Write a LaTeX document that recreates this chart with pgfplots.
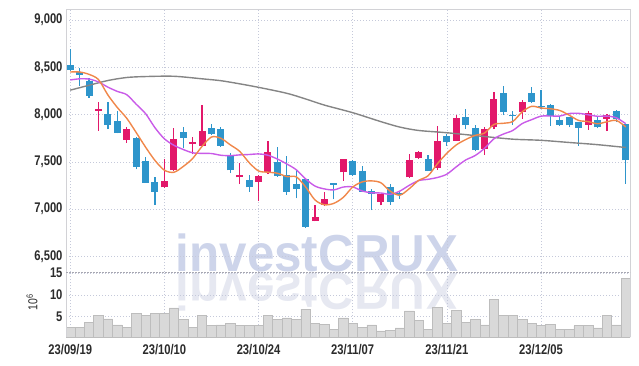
\documentclass[border=0pt]{standalone}
\usepackage{pgfplots}
\pgfplotsset{compat=1.18}
\usepackage{pgfplotstable}
\usepackage{fontspec}
\setmainfont{Liberation Sans}[FakeStretch=0.8]
\newfontfamily\wmfont{Liberation Sans}[FakeStretch=0.95]

\definecolor{upc}{HTML}{E2186A}
\definecolor{downc}{HTML}{2E95CB}
\definecolor{ma5}{HTML}{F0874A}
\definecolor{ma10}{HTML}{C95BE8}
\definecolor{ma60}{HTML}{858585}
\definecolor{gridc}{HTML}{C5C9DA}
\definecolor{framec}{HTML}{D2D2D6}
\definecolor{sepc}{HTML}{A8A8B2}
\definecolor{volf}{HTML}{D9D9D9}
\definecolor{vole}{HTML}{BDBDBD}
\definecolor{wmc}{HTML}{CDD4EA}
\definecolor{wmc2}{HTML}{E6E8F1}
\definecolor{labc}{HTML}{2B2B2B}

\pgfplotstableread{
i O H L C
0 8520 8690 8460 8470
1 8450 8490 8300 8420
2 8360 8390 8180 8200
4 8010 8130 7845 7890
5 7935 8040 7800 7810
7 7755 7760 7420 7450
8 7510 7555 7280 7280
9 7285 7345 7045 7185
12 7815 7865 7645 7755
15 7855 7900 7785 7790
16 7845 7865 7660 7670
17 7565 7590 7380 7410
19 7305 7360 7185 7230
22 7500 7655 7345 7355
23 7360 7565 7155 7185
24 7265 7410 7115 7215
25 7320 7325 6805 6815
28 7275 7280 7105 7260
30 7510 7515 7355 7360
31 7405 7460 7180 7185
32 7195 7215 6990 7160
34 7235 7265 7045 7080
35 7170 7180 7110 7155
38 7530 7575 7400 7405
40 7770 7795 7670 7705
42 7975 8055 7845 7885
43 7855 7885 7610 7625
46 8230 8305 7995 8025
47 7995 8040 7895 7980
49 8230 8295 8120 8135
50 8090 8255 8055 8075
51 8100 8110 7880 7980
52 7945 7980 7880 7890
53 7970 7975 7865 7885
54 7920 7925 7670 7860
56 7945 7970 7855 7865
58 8040 8050 7925 7955
59 7900 7905 7270 7515
}\downdata

\pgfplotstableread{
i O H L C
3 8040 8130 7830 8055
6 7730 7865 7700 7850
10 7230 7530 7225 7295
11 7410 7855 7400 7740
13 7690 7760 7580 7705
14 7670 8100 7665 7825
18 7335 7485 7265 7360
20 7285 7360 7090 7350
21 7390 7720 7370 7605
26 6875 7040 6870 6915
27 7045 7185 7035 7105
29 7390 7535 7300 7530
33 7080 7165 7040 7160
36 7335 7580 7330 7525
37 7540 7615 7535 7600
39 7435 7875 7415 7720
41 7725 7995 7720 7965
44 7635 7865 7575 7845
45 7865 8235 7845 8160
48 8030 8150 7955 8135
55 7890 8040 7840 8015
57 7955 8005 7825 7995
}\updata

\pgfplotstableread{
i V
0 2.6
1 2.6
2 3.7
3 5.2
4 4.5
5 3.1
6 2.6
7 5.8
8 5.2
9 5.8
10 5.8
11 7.0
12 4.3
13 2.6
14 5.3
15 2.9
16 3.1
17 3.4
18 2.9
19 2.9
20 2.9
21 5.2
22 4.3
23 4.7
24 4.3
25 6.7
26 3.5
27 3.3
28 2.1
29 4.7
30 3.5
31 2.6
32 3.1
33 1.7
34 1.9
35 2.4
36 6.3
37 4.2
38 2.0
39 7.2
40 3.5
41 6.5
42 3.7
43 4.4
44 3.1
45 9.0
46 5.2
47 5.2
48 4.4
49 3.5
50 2.9
51 3.3
52 2.1
53 2.1
54 2.9
55 2.9
56 2.4
57 5.3
58 3.1
59 13.8
}\voldata

\begin{document}
\begin{tikzpicture}
\useasboundingbox (0,0) rectangle (639pt,-366pt);

% watermark
\node[anchor=base, text=wmc2, yscale=-1, inner sep=0pt, font=\wmfont\bfseries\fontsize{52}{52}\selectfont] at (317pt,-273pt) {investCRUX};
\node[anchor=base, text=wmc, inner sep=0pt, font=\wmfont\bfseries\fontsize{52}{52}\selectfont] at (317pt,-271pt) {investCRUX};

\begin{axis}[
  name=price,
  at={(66pt,-9pt)}, anchor=north west,
  width=564pt, height=263pt, scale only axis,
  xmin=-0.45, xmax=59.45,
  ymin=6336, ymax=9116,
  axis line style={draw=none},
  ytick={6500,7000,7500,8000,8500,9000},
  yticklabels={{6,500},{7,000},{7,500},{8,000},{8,500},{9,000}},
  xtick={0,10,20,30,40,50}, xticklabels={},
  grid=major,
  major grid style={draw=gridc, dash pattern=on 1pt off 2pt, line width=0.6pt},
  tick style={draw=none},
  yticklabel style={font=\bfseries\fontsize{14}{14}\selectfont, text=labc},
  clip=true,
]
% wicks
\addplot[draw=none, forget plot, error bars/.cd, y dir=plus, y explicit, error mark=none,
  error bar style={draw=downc, line width=1.2pt}]
  table[x=i, y=L, y error plus expr=\thisrow{H}-\thisrow{L}] {\downdata};
\addplot[draw=none, forget plot, error bars/.cd, y dir=plus, y explicit, error mark=none,
  error bar style={draw=upc, line width=1.2pt}]
  table[x=i, y=L, y error plus expr=\thisrow{H}-\thisrow{L}] {\updata};
% bodies
\addplot[draw=none, forget plot, error bars/.cd, y dir=plus, y explicit, error mark=none,
  error bar style={draw=downc, line width=7pt}]
  table[x=i, y=C, y error plus expr=\thisrow{O}-\thisrow{C}] {\downdata};
\addplot[draw=none, forget plot, error bars/.cd, y dir=plus, y explicit, error mark=none,
  error bar style={draw=upc, line width=7pt}]
  table[x=i, y=O, y error plus expr=\thisrow{C}-\thisrow{O}] {\updata};

% long MA (gray)
\addplot[smooth, draw=ma60, line width=1.4pt] coordinates {
(0,8258) (2,8310) (4,8360) (6,8392) (8,8402) (11,8405) (14,8378) (16,8358)
(18,8325) (20,8288) (23,8225) (25,8165) (27,8100) (30,8020) (33,7925) (35,7868)
(37,7832) (40,7808) (44,7768) (47,7740) (50,7728) (53,7705) (56,7682) (59,7652)};

% MA10 (purple)
\addplot[smooth, draw=ma10, line width=1.4pt] coordinates {
(0,8366) (1,8378) (2,8375) (3,8345) (4,8290) (5,8245) (6,8210) (7,8110) (8,8010)
(9,7861) (10,7744) (11,7676) (12,7631) (13,7596) (14,7590) (15,7588) (16,7570)
(17,7566) (18,7574) (19,7578) (20,7584) (21,7570) (22,7530) (23,7478) (24,7417)
(25,7320) (26,7244) (27,7214) (28,7204) (29,7234) (30,7235) (31,7193) (32,7173)
(33,7171) (34,7157) (35,7191) (36,7252) (37,7302) (38,7316) (39,7335) (40,7370)
(41,7448) (42,7520) (43,7567) (44,7643) (45,7744) (46,7794) (47,7832) (48,7905)
(49,7946) (50,7983) (51,7985) (52,7985) (53,8011) (54,8013) (55,7998) (56,7982)
(57,7984) (58,7966) (59,7904)};

% MA5 (orange)
\addplot[smooth, draw=ma5, line width=1.4pt] coordinates {
(0,8450) (1,8450) (2,8425) (3,8370) (4,8207) (5,8075) (6,7961) (7,7811) (8,7656)
(9,7515) (10,7412) (11,7390) (12,7451) (13,7536) (14,7664) (15,7763) (16,7749)
(17,7680) (18,7611) (19,7492) (20,7404) (21,7391) (22,7380) (23,7345) (24,7342)
(25,7235) (26,7097) (27,7047) (28,7062) (29,7125) (30,7234) (31,7288) (32,7299)
(33,7279) (34,7189) (35,7148) (36,7216) (37,7304) (38,7353) (39,7481) (40,7591)
(41,7679) (42,7736) (43,7780) (44,7805) (45,7896) (46,7908) (47,7927) (48,8029)
(49,8087) (50,8070) (51,8061) (52,8043) (53,7993) (54,7938) (55,7926) (56,7903)
(57,7924) (58,7938) (59,7869)};
\end{axis}

\begin{axis}[
  name=vol,
  at={(66pt,-272pt)}, anchor=north west,
  width=564pt, height=65pt, scale only axis,
  xmin=-0.45, xmax=59.45,
  ymin=0.32, ymax=15.25,
  axis line style={draw=none},
  ybar, bar width=1,
  ytick={5,10,15}, yticklabels={5,10,15},
  xtick={0,10,20,30,40,50},
  xticklabels={23/09/19,23/10/10,23/10/24,23/11/07,23/11/21,23/12/05},
  grid=major,
  major grid style={draw=gridc, dash pattern=on 1pt off 2pt, line width=0.6pt},
  tick style={draw=none},
  yticklabel style={font=\bfseries\fontsize{14}{14}\selectfont, text=labc},
  xticklabel style={font=\bfseries\fontsize{14}{14}\selectfont, text=labc},
]
\addplot[fill=volf, draw=vole, line width=0.6pt] table[x=i, y=V] {\voldata};
\end{axis}

% frame
\draw[framec, line width=0.9pt] (price.south west) -- (price.north west) -- (price.north east) -- (price.south east);
\draw[framec, line width=0.9pt] (vol.north west) -- (vol.south west);
\draw[framec, line width=0.9pt] (vol.north east) -- (vol.south east);
\draw[sepc, line width=0.8pt, dash pattern=on 2pt off 1pt] (price.south west) -- (price.south east);

% volume unit
\node[rotate=90, text=labc, font=\fontsize{13}{13}\selectfont] at (32pt,-302pt) {10\textsuperscript{6}};
\end{tikzpicture}
\end{document}
